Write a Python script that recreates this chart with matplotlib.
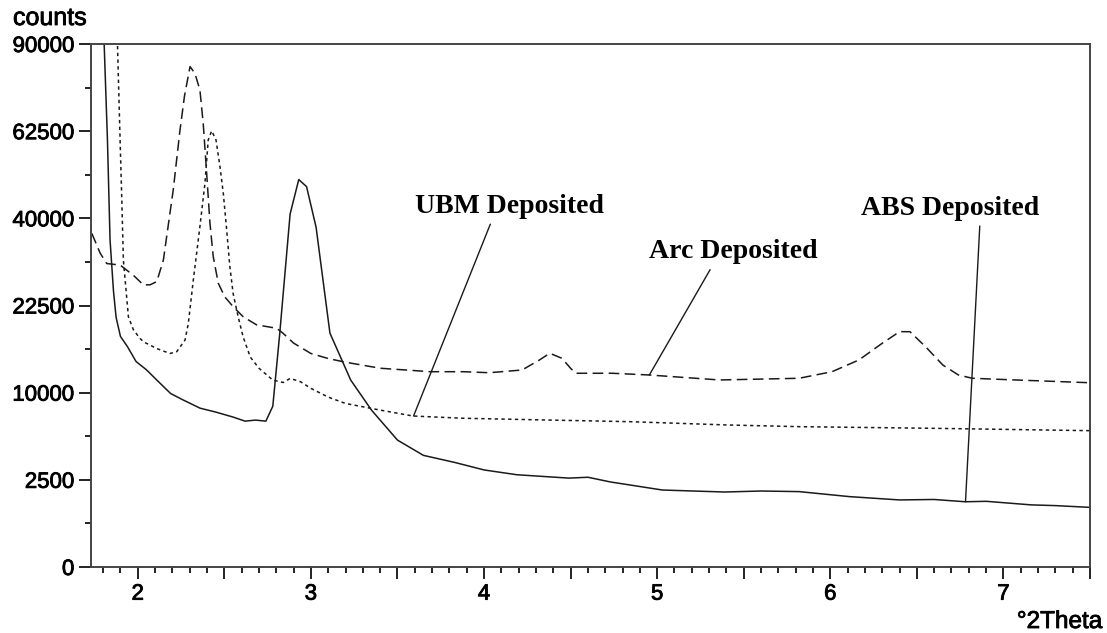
import numpy as np
import matplotlib
matplotlib.use("Agg")
import matplotlib.pyplot as plt
import matplotlib.patheffects as pe
from matplotlib.ticker import FixedLocator, FuncFormatter

# data (counts vs. 2theta)
abs_x = [1.79, 1.825, 1.84, 1.86, 1.875, 1.90, 1.94, 1.99, 2.05, 2.11, 2.19, 2.26,
         2.36, 2.45, 2.55, 2.62, 2.68, 2.74, 2.78, 2.82, 2.88, 2.93, 2.975, 3.03,
         3.11, 3.23, 3.35, 3.5, 3.65, 3.83, 4.0, 4.19, 4.49, 4.6, 4.73, 5.03, 5.39,
         5.6, 5.82, 6.11, 6.4, 6.6, 6.78, 6.9, 7.16, 7.3, 7.5]
abs_y = [120000, 60000, 35200, 25000, 20500, 17500, 16000, 13900, 12800, 11500, 9900, 9200,
         8300, 7900, 7400, 7000, 7100, 7000, 8500, 17900, 41000, 49400, 47600, 38000,
         18000, 11500, 8100, 5300, 4100, 3600, 3100, 2800, 2600, 2650, 2380, 1950, 1850,
         1900, 1870, 1630, 1480, 1500, 1400, 1420, 1270, 1240, 1170]

ubm_x = [1.87, 1.898, 1.908, 1.917, 1.946, 1.975, 2.013, 2.032, 2.11, 2.186, 2.225,
         2.273, 2.292, 2.321, 2.359, 2.388, 2.407, 2.427, 2.452, 2.475, 2.494, 2.512,
         2.532, 2.551, 2.58, 2.609, 2.65, 2.7, 2.78, 2.84, 2.88, 2.94, 3.0, 3.1, 3.2,
         3.4, 3.59, 3.88, 4.36, 4.84, 5.4, 5.82, 6.59, 7.5]
ubm_y = [120000, 60000, 44300, 31000, 20600, 18500, 17200, 16700, 15700, 15000, 15250,
         16950, 19500, 27100, 38100, 48400, 60000, 62600, 60000, 52700, 46000, 38100,
         29700, 24600, 20600, 17400, 14500, 13000, 11500, 11200, 11700, 11300, 10500, 9500, 8800,
         8100, 7500, 7280, 7110, 6950, 6640, 6480, 6330, 6115]

arc_x = [1.735, 1.783, 1.821, 1.898, 1.975, 2.032, 2.071, 2.11, 2.148, 2.205, 2.244,
         2.27, 2.302, 2.33, 2.359, 2.378, 2.398, 2.417, 2.436, 2.465, 2.503, 2.551,
         2.609, 2.686, 2.802, 2.84, 2.9, 3.0, 3.1, 3.2, 3.4, 3.69, 3.88, 4.03, 4.22,
         4.32, 4.38, 4.45, 4.5, 4.53, 4.74, 4.955, 5.36, 5.82, 6.01, 6.165, 6.3, 6.4,
         6.46, 6.55, 6.65, 6.74, 6.82, 7.07, 7.49]
arc_y = [36600, 32400, 30300, 30000, 28000, 26200, 26200, 26800, 31000, 46800, 62800,
         73000, 82400, 80200, 74900, 64800, 51000, 38900, 31700, 26500, 24000, 22300,
         20600, 19300, 18750, 17960, 16500, 15000, 14300, 13800, 13000, 12550, 12550, 12420, 12770,
         14100, 15030, 14330, 12990, 12350, 12350, 12130, 11510, 11720, 12550, 14100, 16470, 18220,
         18220, 15970, 13420, 12130, 11720, 11510, 11180]

y_ticks = [0, 2500, 10000, 22500, 40000, 62500, 90000]
y_minor = [625, 5625, 15625, 30625, 50625, 75625]
x_ticks = [2, 2.5, 3, 3.5, 4, 4.5, 5, 5.5, 6, 6.5, 7, 7.5]
x_minor = [1.8, 1.9, 2.1, 2.2, 2.3, 2.4, 2.6, 2.7, 2.8, 2.9, 3.1, 3.2, 3.3, 3.4,
           3.6, 3.7, 3.8, 3.9, 4.1, 4.2, 4.3, 4.4, 4.6, 4.7, 4.8, 4.9, 5.1, 5.2,
           5.3, 5.4, 5.6, 5.7, 5.8, 5.9, 6.1, 6.2, 6.3, 6.4, 6.6, 6.7, 6.8, 6.9,
           7.1, 7.2, 7.3, 7.4]

# labels: text, text position, point the leader line goes to, where line leaves the text
labels = ["UBM Deposited", "Arc Deposited", "ABS Deposited"]
label_pos = [(4.147, 42800), (5.44, 32650), (6.69, 42400)]
label_tip = [(3.593, 7500), (4.955, 12130), (6.781, 1403)]
label_rel = [0.41, 0.38, 0.67]

fig = plt.figure(figsize=(11.07, 6.33), dpi=100)
ax = fig.add_axes([91 / 1107, 66 / 633, 999 / 1107, 523 / 633])

ink = "#1a1a1a"
ax.plot(abs_x, abs_y, color=ink, lw=1.1, ls="-")
ax.plot(ubm_x, ubm_y, color=ink, lw=1.1, dashes=(2.2, 2.2))
ax.plot(arc_x, arc_y, color=ink, lw=1.1, dashes=(7, 3.5))

# square-root intensity axis
ax.set_yscale("function", functions=(lambda v: np.sqrt(np.clip(v, 0, None)), np.square))
ax.set_ylim(0, 90000)
ax.set_xlim(1.73, 7.5)

ax.yaxis.set_major_locator(FixedLocator(y_ticks))
ax.yaxis.set_minor_locator(FixedLocator(y_minor))
ax.yaxis.set_major_formatter(FuncFormatter(lambda v, p: "%d" % v))
ax.xaxis.set_major_locator(FixedLocator(x_ticks))
ax.xaxis.set_major_formatter(FuncFormatter(lambda v, p: "%d" % round(v) if abs(v - round(v)) < 1e-6 else ""))

sans = "Liberation Sans"
heavy = [pe.withStroke(linewidth=0.6, foreground="black")]
ax.tick_params(which="major", length=8.5, width=1.4, color="#222222", pad=3.5,
               labelsize=16)
ax.tick_params(which="minor", length=4.5, width=1.4, color="#222222")
# short ticks every 0.1 on the 2theta axis, hung below the spine
ax.vlines(x_minor, 0, -0.012, transform=ax.get_xaxis_transform(), clip_on=False,
          color="#222222", lw=1.4)
for lab in ax.get_xticklabels() + ax.get_yticklabels():
    lab.set_fontfamily(sans)
    lab.set_path_effects(heavy)
for s in ax.spines.values():
    s.set_color("#444444")
    s.set_linewidth(1.4)

for txt, pos, tip, rx in zip(labels, label_pos, label_tip, label_rel):
    ax.annotate(txt, xy=tip, xytext=pos, ha="center", va="center",
                fontfamily="Liberation Serif", fontweight="bold", fontsize=20,
                arrowprops=dict(arrowstyle="-", color=ink, lw=1.0,
                                relpos=(rx, 0), shrinkA=2, shrinkB=0))

fig.text(13 / 1107, 1 - 25 / 633, "counts", fontfamily=sans, fontsize=18,
         ha="left", va="baseline", path_effects=heavy)
fig.text(1102 / 1107, 0.0, "°2Theta", fontfamily=sans, fontsize=17.5,
         ha="right", va="bottom", path_effects=heavy)

fig.savefig("out.png", dpi=100)
